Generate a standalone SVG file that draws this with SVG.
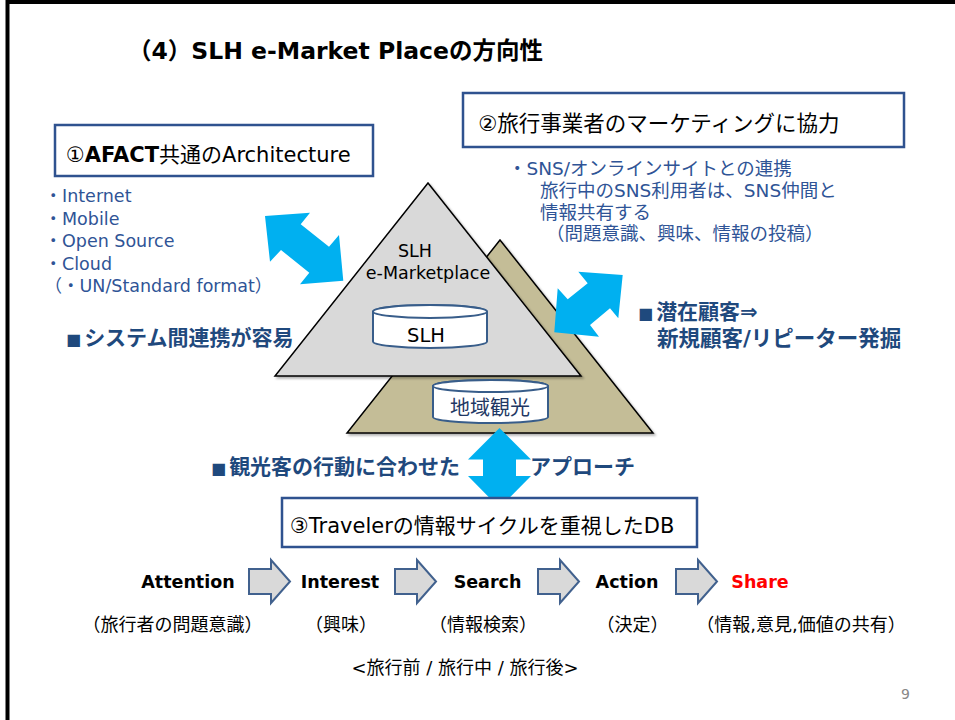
<svg xmlns="http://www.w3.org/2000/svg" width="955" height="720" viewBox="0 0 955 720">
<style>
.t{font-family:"DejaVu Sans","Noto Sans CJK JP",sans-serif}
.bk{fill:#000}
.blue{fill:#2F5496}
.navy{fill:#1F497D;font-weight:bold}
.box{fill:#fff;stroke:#2F528F;stroke-width:2.5}
.cyl{fill:#fff;stroke:#385D8A;stroke-width:2}
.barrow{fill:#00B0F0}
.garrow{fill:#D9D9D9;stroke:#41618E;stroke-width:2;stroke-linejoin:miter}
</style>
<defs>
<filter id="sh" x="-10%" y="-10%" width="130%" height="130%"><feDropShadow dx="2" dy="2" stdDeviation="1.2" flood-color="#000" flood-opacity="0.3"/></filter>
</defs>
<rect width="955" height="720" fill="#fff"/>
<path d="M7.5,730 V2 H960" fill="none" stroke="#000" stroke-width="4"/>

<text class="t bk" x="128" y="59" font-size="23.5" font-weight="bold">（4）SLH e-Market Placeの方向性</text>

<g id="triangles">
<polygon points="500,240 653,433 347,433" fill="#C4BD97" stroke="#000" stroke-width="1.5" filter="url(#sh)"/>
<polygon points="428,183 581,376 275,376" fill="#D9D9D9" stroke="#000" stroke-width="1.5" filter="url(#sh)"/>
<text class="t bk" x="415" y="257" font-size="17.5" text-anchor="middle">SLH</text>
<text class="t bk" x="428" y="279" font-size="17.5" text-anchor="middle">e-Marketplace</text>
</g>

<g id="cyl-slh">
<path class="cyl" d="M373,311.5 A57,6.5 0 0 1 487,311.5 V341.5 A57,6.5 0 0 1 373,341.5 Z"/>
<ellipse class="cyl" cx="430" cy="311.5" rx="57" ry="6.5"/>
<text class="t bk" x="426" y="342" font-size="19.5" text-anchor="middle">SLH</text>
</g>

<g id="cyl-local">
<path class="cyl" d="M433,386 A57.5,6 0 0 1 548,386 V417 A57.5,6 0 0 1 433,417 Z"/>
<ellipse class="cyl" cx="490.5" cy="386" rx="57.5" ry="6"/>
<text class="t" x="490" y="415" font-size="20" text-anchor="middle" fill="#1F3864">地域観光</text>
</g>

<g id="box1">
<rect class="box" x="55" y="125" width="318" height="51"/>
<text class="t bk" x="66" y="162" font-size="21">①<tspan font-weight="bold">AFACT</tspan>共通のArchitecture</text>
</g>
<g id="list1" class="t blue" font-size="17.5">
<text x="44.5" y="202">・Internet</text>
<text x="44.5" y="224.5">・Mobile</text>
<text x="44.5" y="247">・Open Source</text>
<text x="44.5" y="269.5">・Cloud</text>
<text x="44.5" y="292">（・UN/Standard format）</text>
</g>

<g id="box2">
<rect class="box" x="463" y="93" width="441" height="54"/>
<text class="t bk" x="478" y="131" font-size="21.5">②旅行事業者のマーケティングに協力</text>
</g>
<g id="list2" class="t blue" font-size="18.5">
<text x="508" y="175">・SNS/オンラインサイトとの連携</text>
<text x="540" y="197">旅行中のSNS利用者は、SNS仲間と</text>
<text x="540" y="219">情報共有する</text>
<text x="546" y="240">（問題意識、興味、情報の投稿）</text>
</g>

<g id="label-system">
<text class="t navy" x="66" y="345" font-size="21"><tspan font-size="16">■</tspan><tspan dx="3">システム間連携が容易</tspan></text>
</g>
<g id="label-customer">
<text class="t navy" x="638" y="319" font-size="21"><tspan font-size="16">■</tspan><tspan dx="3">潜在顧客⇒</tspan></text>
<text class="t navy" x="657" y="346" font-size="21.5">新規顧客/リピーター発掘</text>
</g>
<g id="label-approach">
<text class="t navy" x="211" y="474" font-size="21"><tspan font-size="16">■</tspan><tspan dx="3">観光客の行動に合わせた</tspan></text>
<text class="t navy" x="530" y="474" font-size="21">アプローチ</text>
</g>

<g id="connectors">
<polygon class="barrow" points="265,216 310,212.7 300.7,224.3 329,246.7 339,235 343.3,280.7 300,284.3 309.3,272.7 281,250 270,261.7"/>
<polygon class="barrow" points="622.7,275 578.3,271.7 587.7,283.3 567.7,299.3 557.7,288.3 554.3,332.3 599,336.7 590,325 610,308.3 618.3,318.3"/>
<polygon class="barrow" points="499.5,428 531,459.5 516,459.5 516,476 531,476 499.5,508 468,476 483,476 483,459.5 468,459.5"/>
<path class="garrow" d="M249,569 H271 V560 L290,581.5 L271,603 V594 H249 Z"/>
<path class="garrow" d="M395,569 H417 V560 L436,581.5 L417,603 V594 H395 Z"/>
<path class="garrow" d="M538,569 H560 V560 L579,581.5 L560,603 V594 H538 Z"/>
<path class="garrow" d="M676,569 H698 V560 L717,581.5 L698,603 V594 H676 Z"/>
</g>

<g id="box3">
<rect class="box" x="282" y="498" width="415" height="49"/>
<text class="t bk" x="290" y="533" font-size="21">③Travelerの情報サイクルを重視したDB</text>
</g>

<g id="stages" class="t" font-weight="bold" font-size="17.5" text-anchor="middle">
<text x="188" y="588" fill="#000">Attention</text>
<text x="340" y="588" fill="#000">Interest</text>
<text x="487.5" y="588" fill="#000">Search</text>
<text x="627" y="588" fill="#000">Action</text>
<text x="760" y="588" fill="#FF0000">Share</text>
</g>
<g id="stage-notes" class="t bk" font-size="18" text-anchor="middle">
<text x="172.5" y="631">（旅行者の問題意識）</text>
<text x="341" y="631">（興味）</text>
<text x="483" y="631">（情報検索）</text>
<text x="632.5" y="631">（決定）</text>
<text x="801" y="631">（情報,意見,価値の共有）</text>
<text x="465" y="674">&lt;旅行前 / 旅行中 / 旅行後&gt;</text>
</g>
<text class="t" x="905.5" y="699" font-size="14" fill="#888" text-anchor="middle">9</text>
</svg>
